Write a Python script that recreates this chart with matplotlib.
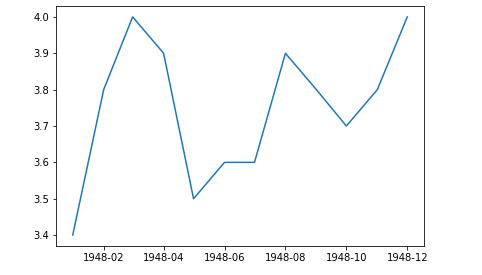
import matplotlib
matplotlib.use("Agg")
import matplotlib.pyplot as plt
import matplotlib.dates as mdates
import pandas as pd

# monthly values, 1948
months = ["1948-01", "1948-02", "1948-03", "1948-04", "1948-05", "1948-06",
          "1948-07", "1948-08", "1948-09", "1948-10", "1948-11", "1948-12"]
values = [3.4, 3.8, 4.0, 3.9, 3.5, 3.6, 3.6, 3.9, 3.8, 3.7, 3.8, 4.0]
tick_months = ["1948-02", "1948-04", "1948-06", "1948-08", "1948-10", "1948-12"]

dates = pd.to_datetime(months)

fig = plt.figure(figsize=(482 / 72, 275 / 72), dpi=72)
ax = fig.add_axes([56 / 482, 1 - 246 / 275, (424 - 56) / 482, (246 - 6) / 275])
ax.plot(dates, values, color="#1f77b4", linewidth=1.5)

ax.set_xticks(pd.to_datetime(tick_months))
ax.xaxis.set_major_formatter(mdates.DateFormatter("%Y-%m"))
ax.set_yticks([3.4, 3.5, 3.6, 3.7, 3.8, 3.9, 4.0])

fig.savefig("out.png", dpi=72)
